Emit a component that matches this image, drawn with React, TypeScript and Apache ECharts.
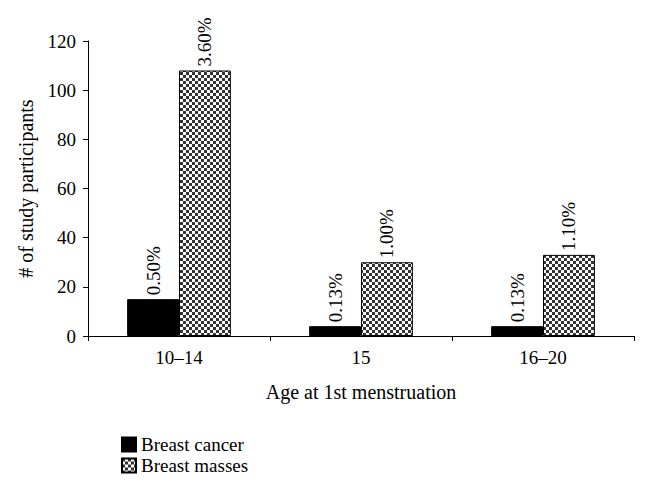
import React, { useEffect, useRef } from "react";
import * as echarts from "echarts";

const categories = ["10–14", "15", "16–20"];
const cancerValues = [15, 4, 4];
const massesValues = [108, 30, 33];
const cancerLabels = ["0.50%", "0.13%", "0.13%"];
const massesLabels = ["3.60%", "1.00%", "1.10%"];
const yTicks = [0, 20, 40, 60, 80, 100, 120];

function makePattern(): HTMLCanvasElement {
  const c = document.createElement("canvas");
  c.width = 6;
  c.height = 6;
  const ctx = c.getContext("2d")!;
  ctx.fillStyle = "#ffffff";
  ctx.fillRect(0, 0, 6, 6);
  ctx.fillStyle = "#333333";
  ctx.fillRect(0, 0, 3, 3);
  ctx.fillRect(3, 3, 3, 3);
  return c;
}

export default function App() {
  const ref = useRef<HTMLDivElement>(null);
  useEffect(() => {
    if (!ref.current) return;
    const chart = echarts.init(ref.current, undefined, { renderer: "svg" });
    const pattern = makePattern();
    const font = "'Liberation Serif', 'DejaVu Serif', serif";
    const labelStyle = (labels: string[]) => ({
      show: true,
      position: "top" as const,
      rotate: 90,
      align: "left" as const,
      verticalAlign: "middle" as const,
      distance: 4,
      fontFamily: font,
      fontSize: 19,
      color: "#000",
      formatter: (p: any) => labels[p.dataIndex],
    });
    chart.setOption({
      animation: false,
      textStyle: { fontFamily: font },
      grid: { left: 88, top: 41, right: 13, bottom: 158, containLabel: false },
      legend: {
        orient: "vertical",
        left: 116,
        top: 430,
        itemWidth: 14,
        itemHeight: 14,
        itemGap: 2,
        icon: "rect",
        textStyle: { fontFamily: font, fontSize: 19, color: "#000" },
        data: ["Breast cancer", "Breast masses"],
      },
      xAxis: {
        type: "category",
        data: categories,
        name: "Age at 1st menstruation",
        nameLocation: "middle",
        nameGap: 46,
        nameTextStyle: { fontFamily: font, fontSize: 20, color: "#000" },
        axisLine: { lineStyle: { color: "#000", width: 1 } },
        axisTick: { show: true, length: 5, lineStyle: { color: "#000" } },
        axisLabel: { fontFamily: font, fontSize: 19, color: "#000", margin: 12 },
      },
      yAxis: {
        type: "value",
        min: 0,
        max: 120,
        interval: 20,
        name: "# of study participants",
        nameLocation: "middle",
        nameGap: 52,
        nameTextStyle: { fontFamily: font, fontSize: 20, color: "#000" },
        axisLine: { show: true, lineStyle: { color: "#000", width: 1 } },
        axisTick: { show: true, length: 5, lineStyle: { color: "#000" } },
        splitLine: { show: false },
        axisLabel: {
          fontFamily: font,
          fontSize: 19,
          color: "#000",
          margin: 12,
          formatter: (v: number) => (yTicks.includes(v) ? String(v) : ""),
        },
      },
      series: [
        {
          name: "Breast cancer",
          type: "bar",
          data: cancerValues,
          barGap: "0%",
          barCategoryGap: "43%",
          itemStyle: { color: "#000", borderColor: "#000", borderWidth: 1 },
          label: labelStyle(cancerLabels),
        },
        {
          name: "Breast masses",
          type: "bar",
          data: massesValues,
          itemStyle: {
            color: { image: pattern, repeat: "repeat" },
            borderColor: "#000",
            borderWidth: 1,
          },
          label: labelStyle(massesLabels),
        },
      ],
    });
    return () => chart.dispose();
  }, []);
  return <div ref={ref} style={{ width: 647, height: 494, margin: -8 }} />;
}
